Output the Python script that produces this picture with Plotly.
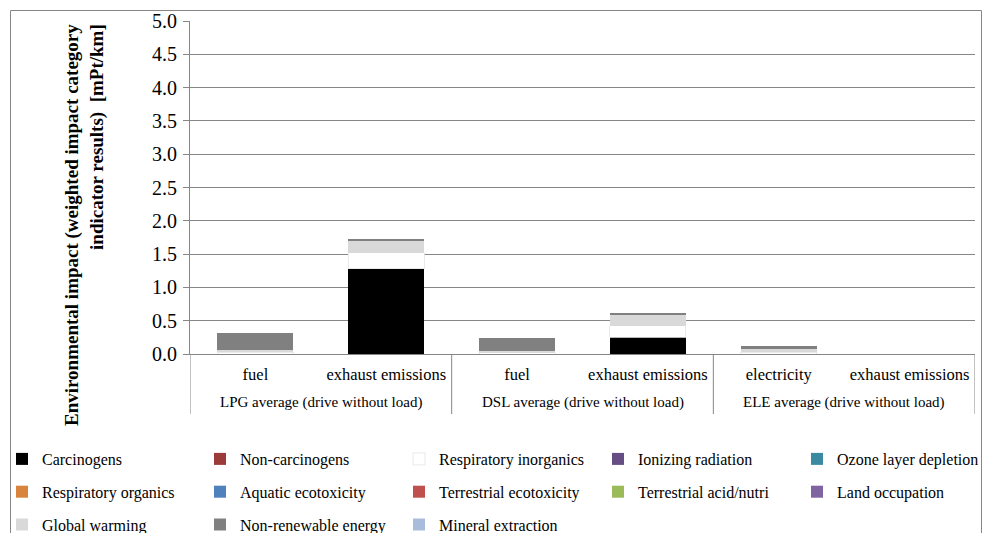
import plotly.graph_objects as go

# Drive variants (outer label row) and the life-cycle stage of each bar (inner label row)
groups = ["LPG average (drive without load)", "LPG average (drive without load)",
          "DSL average (drive without load)", "DSL average (drive without load)",
          "ELE average (drive without load)", "ELE average (drive without load)"]
stages = ["fuel", "exhaust emissions", "fuel", "exhaust emissions",
          "electricity", "exhaust emissions"]

# Weighted impact category indicator results [mPt/km], stacked bottom to top
carcinogens = [0.0, 1.28, 0.0, 0.25, 0.0, 0.0]
non_carcinogens = [0.0, 0.0, 0.0, 0.0, 0.0, 0.0]
respiratory_inorganics = [0.03, 0.24, 0.02, 0.175, 0.03, 0.0]
ionizing_radiation = [0.0, 0.0, 0.0, 0.0, 0.0, 0.0]
ozone_layer_depletion = [0.0, 0.0, 0.0, 0.0, 0.0, 0.0]
respiratory_organics = [0.0, 0.0, 0.0, 0.0, 0.0, 0.0]
aquatic_ecotoxicity = [0.0, 0.0, 0.0, 0.0, 0.0, 0.0]
terrestrial_ecotoxicity = [0.0, 0.0, 0.0, 0.0, 0.0, 0.0]
terrestrial_acid_nutri = [0.0, 0.0, 0.0, 0.0, 0.0, 0.0]
land_occupation = [0.0, 0.0, 0.0, 0.0, 0.0, 0.0]
global_warming = [0.03, 0.17, 0.02, 0.16, 0.04, 0.0]
non_renewable_energy = [0.25, 0.03, 0.205, 0.03, 0.05, 0.0]
mineral_extraction = [0.0, 0.0, 0.0, 0.0, 0.0, 0.0]

y_ticks = [0.0, 0.5, 1.0, 1.5, 2.0, 2.5, 3.0, 3.5, 4.0, 4.5, 5.0]

# (name, values, colour, legend column)
series = [
    ("Carcinogens", carcinogens, "#000000", 0),
    ("Non-carcinogens", non_carcinogens, "#9b3b3a", 1),
    ("Respiratory inorganics", respiratory_inorganics, "#ffffff", 2),
    ("Ionizing radiation", ionizing_radiation, "#664d84", 3),
    ("Ozone layer depletion", ozone_layer_depletion, "#3a8ba2", 4),
    ("Respiratory organics", respiratory_organics, "#d9843c", 0),
    ("Aquatic ecotoxicity", aquatic_ecotoxicity, "#4f81bd", 1),
    ("Terrestrial ecotoxicity", terrestrial_ecotoxicity, "#c0504d", 2),
    ("Terrestrial acid/nutri", terrestrial_acid_nutri, "#9bbb59", 3),
    ("Land occupation", land_occupation, "#8064a2", 4),
    ("Global warming", global_warming, "#d9d9d9", 0),
    ("Non-renewable energy", non_renewable_energy, "#808080", 1),
    ("Mineral extraction", mineral_extraction, "#a9bcdb", 2),
]

FONT = "Liberation Serif, Times New Roman, serif"
GRID = "#868686"

W, H = 984, 533
L, R, T, B = 190, 9, 21, 179
pw, ph = W - L - R, H - T - B


def px_x(x):
    return (x - L) / pw


def px_y(y):
    return (H - B - y) / ph


positions = list(range(len(stages)))
legend_ids = ["legend", "legend2", "legend3", "legend4", "legend5"]

fig = go.Figure()
for name, vals, color, col in series:
    fig.add_trace(go.Bar(
        x=positions, y=vals, name=name, legendgroup=name,
        marker=dict(color=color,
                    line=dict(color="#e3e3e3", width=0.8 if color == "#ffffff" else 0)),
        legend=legend_ids[col],
    ))

# Legend laid out as five columns, one legend box per column
column_left = [18, 216, 415, 614, 813]
legend_boxes = {}
for lid, cx in zip(legend_ids, column_left):
    legend_boxes[lid] = dict(
        orientation="v", x=px_x(cx - 16), y=px_y(442), xanchor="left", yanchor="top",
        font=dict(family=FONT, size=16, color="#000000"),
        bgcolor="rgba(0,0,0,0)", tracegroupgap=9, itemclick=False,
    )

fig.update_layout(
    width=W, height=H,
    margin=dict(l=L, r=R, t=T, b=B, autoexpand=False),
    barmode="stack", bargap=0.42,
    paper_bgcolor="#ffffff", plot_bgcolor="#ffffff",
    font=dict(family=FONT, color="#000000"),
    xaxis=dict(range=[-0.5, len(stages) - 0.5], tickvals=positions, ticktext=stages,
               showline=True, linecolor=GRID, linewidth=1, ticks="",
               ticklabelstandoff=5,
               tickfont=dict(family=FONT, size=16.5, color="#000000"),
               showgrid=False, zeroline=False),
    yaxis=dict(range=[0, 5.0], tickvals=y_ticks, ticktext=[f"{v:.1f}" for v in y_ticks],
               showline=True, linecolor=GRID, linewidth=1,
               ticks="outside", ticklen=6, tickcolor=GRID, ticklabelstandoff=2,
               showgrid=True, gridcolor=GRID, gridwidth=1, zeroline=False,
               tickfont=dict(family=FONT, size=20, color="#000000")),
    showlegend=True,
    **legend_boxes,
)

# Outer category row: group names centred under their bars, with divider lines
group_names = list(dict.fromkeys(groups))
for g in group_names:
    idx = [i for i, gg in enumerate(groups) if gg == g]
    fig.add_annotation(text=g, x=sum(idx) / len(idx), xref="x", y=px_y(403), yref="paper",
                       showarrow=False, yanchor="middle",
                       font=dict(family=FONT, size=15, color="#000000"))
bounds = [-0.5] + [i + 0.5 for i in range(len(groups) - 1) if groups[i] != groups[i + 1]] \
    + [len(groups) - 0.5]
for b in bounds:
    fig.add_shape(type="line", xref="x", yref="paper", x0=b, x1=b, y0=0, y1=px_y(414),
                  line=dict(color=GRID, width=1))

# Rotated two-line value-axis title
fig.add_annotation(
    text="<b>Environmental impact (weighted impact category</b><br>"
         "<b>indicator results)  [mPt/km]</b>",
    xref="paper", yref="paper", x=px_x(84), y=px_y(22),
    xanchor="center", yanchor="top", textangle=-90, align="right",
    showarrow=False, font=dict(family=FONT, size=19, color="#000000"),
)

# Chart area frame
fig.add_shape(type="rect", xref="paper", yref="paper",
              x0=px_x(10.5), x1=px_x(981.5), y0=px_y(10.5), y1=px_y(560),
              line=dict(color=GRID, width=1), fillcolor="rgba(0,0,0,0)", layer="below")

fig.write_html("out.html")
